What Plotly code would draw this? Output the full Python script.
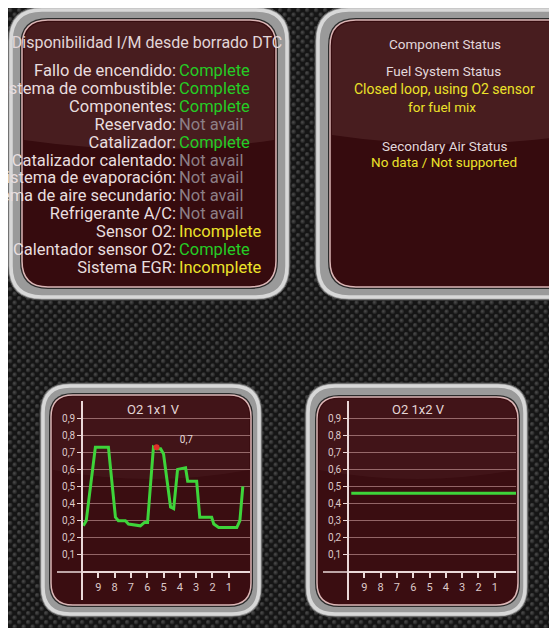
import base64
import plotly.graph_objects as go

# the page body keeps an 8px margin, so the figure starts at (8, 8) of the window
SW, SH = 557, 628
OX, OY = 8, 8
W, H = SW - OX, SH - OY

# ---------------- data ----------------
readiness_labels = [
    "Fallo de encendido:", "Sistema de combustible:", "Componentes:", "Reservado:",
    "Catalizador:", "Catalizador calentado:", "Sistema de evaporación:",
    "Sistema de aire secundario:", "Refrigerante A/C:", "Sensor O2:",
    "Calentador sensor O2:", "Sistema EGR:",
]
readiness_status = [
    "Complete", "Complete", "Complete", "Not avail", "Complete", "Not avail",
    "Not avail", "Not avail", "Not avail", "Incomplete", "Complete", "Incomplete",
]
readiness_title = "Disponibilidad I/M desde borrado DTC"

status_title = "Component Status"
fuel_title = "Fuel System Status"
fuel_value_1 = "Closed loop, using O2 sensor"
fuel_value_2 = "for fuel mix"
air_title = "Secondary Air Status"
air_value = "No data / Not supported"

# O2 sensor 1x1 (seconds ago, volts)
o2_11_t = [9.92, 9.74, 9.18, 8.38, 7.95, 7.77, 7.34, 7.15, 6.42, 6.17, 5.98, 5.62, 5.43,
           5.18, 5.00, 4.82, 4.57, 4.38, 4.14, 3.65, 3.52, 2.97, 2.78, 2.05, 1.92, 1.62,
           0.51, 0.32, 0.14]
o2_11_v = [0.27, 0.30, 0.73, 0.73, 0.32, 0.30, 0.30, 0.28, 0.27, 0.29, 0.29, 0.73, 0.72,
           0.72, 0.69, 0.55, 0.38, 0.37, 0.60, 0.61, 0.53, 0.53, 0.32, 0.32, 0.28, 0.26,
           0.26, 0.30, 0.50]
peak_t = [5.43]
peak_v = [0.73]
peak_label_t = [3.6]
peak_label_v = [0.77]
peak_label = ["0,7"]

# O2 sensor 1x2
o2_12_t = [9.8, 9, 8, 7, 6, 5, 4, 3, 2, 1, 0, -0.3]
o2_12_v = [0.46, 0.46, 0.46, 0.46, 0.46, 0.46, 0.46, 0.46, 0.46, 0.46, 0.46, 0.46]

time_ticks = [9, 8, 7, 6, 5, 4, 3, 2, 1]
time_labels = ["9", "8", "7", "6", "5", "4", "3", "2", "1"]
volt_ticks = [0.1, 0.2, 0.3, 0.4, 0.5, 0.6, 0.7, 0.8, 0.9]
volt_labels = ["0,1", "0,2", "0,3", "0,4", "0,5", "0,6", "0,7", "0,8", "0,9"]

status_colors = {"Complete": "#25cc25", "Not avail": "#8d7f86", "Incomplete": "#ece22a"}

# ---------------- helpers (window pixels -> paper) ----------------
def P(sx, sy):
    return (sx - OX) / W, 1 - (sy - OY) / H

def PX(sx):
    return (sx - OX) / W

def PY(sy):
    return 1 - (sy - OY) / H

def f(px, py):
    x, y = P(px, py)
    return f"{x:.5f},{y:.5f}"

def rrect(x0, y0, x1, y1, r):
    return (f"M{f(x0 + r, y0)} L{f(x1 - r, y0)} Q{f(x1, y0)} {f(x1, y0 + r)} "
            f"L{f(x1, y1 - r)} Q{f(x1, y1)} {f(x1 - r, y1)} L{f(x0 + r, y1)} "
            f"Q{f(x0, y1)} {f(x0, y1 - r)} L{f(x0, y0 + r)} Q{f(x0, y0)} {f(x0 + r, y0)} Z")

def gloss(x0, y0, x1, ybot, r):
    xm = (x0 + x1) / 2
    return (f"M{f(x0, y0 + r)} Q{f(x0, y0)} {f(x0 + r, y0)} L{f(x1 - r, y0)} "
            f"Q{f(x1, y0)} {f(x1, y0 + r)} L{f(x1, ybot)} Q{f(xm, ybot + 18)} {f(x0, ybot)} Z")

shapes = []

def panel(outer, inner, ro, ri, maroon, gloss_bottom, gloss_alpha):
    ox0, oy0, ox1, oy1 = outer
    ix0, iy0, ix1, iy1 = inner
    shapes.append(dict(type="path", path=rrect(ox0, oy0, ox1, oy1, ro), xref="paper", yref="paper",
                       fillcolor="#9a9a9a", line=dict(color="#4a4a4a", width=1), layer="below"))
    shapes.append(dict(type="path", path=rrect(ox0 + 3, oy0 + 3, ox1 - 3, oy1 - 3, ro - 3),
                       xref="paper", yref="paper", fillcolor="rgba(0,0,0,0)",
                       line=dict(color="#d8d8d8", width=3.5), layer="below"))
    shapes.append(dict(type="path", path=rrect(ix0 - 2, iy0 - 2, ix1 + 2, iy1 + 2, ri + 2),
                       xref="paper", yref="paper", fillcolor="#2b2b2b",
                       line=dict(width=0), layer="below"))
    shapes.append(dict(type="path", path=rrect(ix0, iy0, ix1, iy1, ri), xref="paper", yref="paper",
                       fillcolor=maroon, line=dict(color="#dcb6b6", width=1.5), layer="below"))
    shapes.append(dict(type="path", path=gloss(ix0 + 2, iy0 + 2, ix1 - 2, gloss_bottom, ri - 2),
                       xref="paper", yref="paper", fillcolor=f"rgba(255,210,210,{gloss_alpha})",
                       line=dict(width=0), layer="below"))

panel((8, 7, 290, 300), (22, 20, 276, 287), 34, 26, "#360b0e", 140, 0.09)
panel((315, 7, 590, 300), (330, 20, 575, 287), 34, 26, "#360b0e", 135, 0.09)
panel((40, 383, 262, 617), (51, 395, 251, 605), 30, 22, "#3a0d11", 470, 0.04)
panel((305, 383, 528, 617), (317, 397, 518, 605), 30, 22, "#3a0d11", 470, 0.04)

# x-axis extensions to the left of the y axes
for x0, x1 in [(57, 82), (323, 348)]:
    shapes.append(dict(type="line", xref="paper", yref="paper", x0=PX(x0), x1=PX(x1),
                       y0=PY(572), y1=PY(572),
                       line=dict(color="#ead8d8", width=1.5), layer="above"))

# carbon-fibre background
svg = (f"<svg xmlns='http://www.w3.org/2000/svg' width='{W}' height='{H}'><defs>"
       "<radialGradient id='g' cx='40%' cy='40%' r='60%'><stop offset='0' stop-color='#4c4c4c'/>"
       "<stop offset='1' stop-color='#1f1f1f'/></radialGradient>"
       "<pattern id='p' width='9' height='9' patternUnits='userSpaceOnUse'>"
       "<rect width='9' height='9' fill='#151515'/>"
       "<circle cx='2.25' cy='2.25' r='2.4' fill='url(#g)'/>"
       "<circle cx='6.75' cy='6.75' r='2.4' fill='url(#g)'/></pattern></defs>"
       f"<rect width='{W}' height='{H}' fill='url(#p)'/></svg>")
bg_src = "data:image/svg+xml;base64," + base64.b64encode(svg.encode()).decode()

# ---------------- figure ----------------
fig = go.Figure()

GREEN = "#3ed43a"
fig.add_trace(go.Scatter(x=o2_11_t, y=o2_11_v, mode="lines", line=dict(color=GREEN, width=3),
                         xaxis="x", yaxis="y", hoverinfo="skip"))
fig.add_trace(go.Scatter(x=peak_t, y=peak_v, mode="markers",
                         marker=dict(color="#e0302a", size=6), xaxis="x", yaxis="y"))
fig.add_trace(go.Scatter(x=peak_label_t, y=peak_label_v, mode="text", text=peak_label,
                         textfont=dict(family="Roboto", size=10, color="#e6dada"),
                         xaxis="x", yaxis="y"))
fig.add_trace(go.Scatter(x=o2_12_t, y=o2_12_v, mode="lines", line=dict(color=GREEN, width=3),
                         xaxis="x2", yaxis="y2", hoverinfo="skip"))

rows = list(range(len(readiness_labels)))
label_x = [-1] * len(rows)
value_x = [2] * len(rows)
fig.add_trace(go.Scatter(x=label_x, y=rows, mode="text", text=readiness_labels,
                         textposition="middle left", cliponaxis=True,
                         textfont=dict(family="Roboto", size=16.5, color="#e8dedf"),
                         xaxis="x3", yaxis="y3"))
fig.add_trace(go.Scatter(x=value_x, y=rows, mode="text", text=readiness_status,
                         textposition="middle right", cliponaxis=True,
                         textfont=dict(family="Roboto", size=16.5,
                                       color=[status_colors[s] for s in readiness_status]),
                         xaxis="x3", yaxis="y3"))
fig.add_trace(go.Scatter(x=[-30], y=[-1.55], mode="text", text=[readiness_title],
                         textposition="middle center", cliponaxis=True,
                         textfont=dict(family="Roboto", size=16, color="#e2d6d8"),
                         xaxis="x3", yaxis="y3"))

axis_col = "#ead8d8"
tick_font = dict(family="Roboto", size=10, color="#dcc8c8")

def time_axis(domain_px):
    return dict(domain=[PX(domain_px[0]), PX(domain_px[1])], range=[10, -0.3],
                anchor="free", position=PY(572), showline=True, linecolor=axis_col,
                linewidth=1.5, ticks="outside", ticklen=5, tickcolor=axis_col, tickwidth=1.5,
                tickvals=time_ticks, ticktext=time_labels,
                tickfont=dict(family="Roboto", size=11, color="#dcc8c8"),
                showgrid=False, zeroline=False, fixedrange=True)

def volt_axis(pos_px):
    return dict(domain=[PY(600), PY(401)], range=[-0.164, 1.0], anchor="free",
                position=PX(pos_px), showline=True, linecolor=axis_col, linewidth=1.5,
                ticks="outside", ticklen=4, tickcolor=axis_col, tickvals=volt_ticks,
                ticktext=volt_labels, tickfont=tick_font, showgrid=True,
                gridcolor="rgba(220,175,175,0.55)", gridwidth=1, zeroline=False)

fig.update_layout(
    width=W, height=H, margin=dict(l=0, r=0, t=0, b=0),
    paper_bgcolor="#1d1d1d", plot_bgcolor="rgba(0,0,0,0)", showlegend=False,
    font=dict(family="Roboto"),
    xaxis=time_axis((82, 250)), yaxis=volt_axis(82),
    xaxis2=time_axis((348, 516)), yaxis2=volt_axis(348),
    xaxis3=dict(domain=[0, PX(300)], range=[8 - 177, 300 - 177], visible=False, anchor="y3"),
    yaxis3=dict(domain=[PY(300), 1], range=[12.74, -3.575], visible=False, anchor="x3"),
    shapes=shapes,
    images=[dict(source=bg_src, xref="paper", yref="paper", x=0, y=1, sizex=1, sizey=1,
                 xanchor="left", yanchor="top", sizing="stretch", layer="below")],
)

ann = []
def txt(text, cx, cy, color, size=13.5, anchor="center"):
    ann.append(dict(text=text, x=PX(cx), y=PY(cy), xref="paper", yref="paper", showarrow=False,
                    xanchor=anchor, yanchor="middle",
                    font=dict(family="Roboto", size=size, color=color)))

LIGHT = "#e2d8dc"
YEL = "#ece22a"
txt(status_title, 445, 44, LIGHT)
txt(fuel_title, 443, 71, LIGHT)
txt(fuel_value_1, 352, 89, YEL, 14, "left")
txt(fuel_value_2, 442, 107, YEL)
txt(air_title, 444, 146, LIGHT)
txt(air_value, 444, 162, YEL)
txt("O2 1x1 V", 153, 409, "#e4d6d6", 13)
txt("O2 1x2 V", 418, 409, "#e4d6d6", 13)
fig.update_layout(annotations=ann)

fig.write_html("out.html")
